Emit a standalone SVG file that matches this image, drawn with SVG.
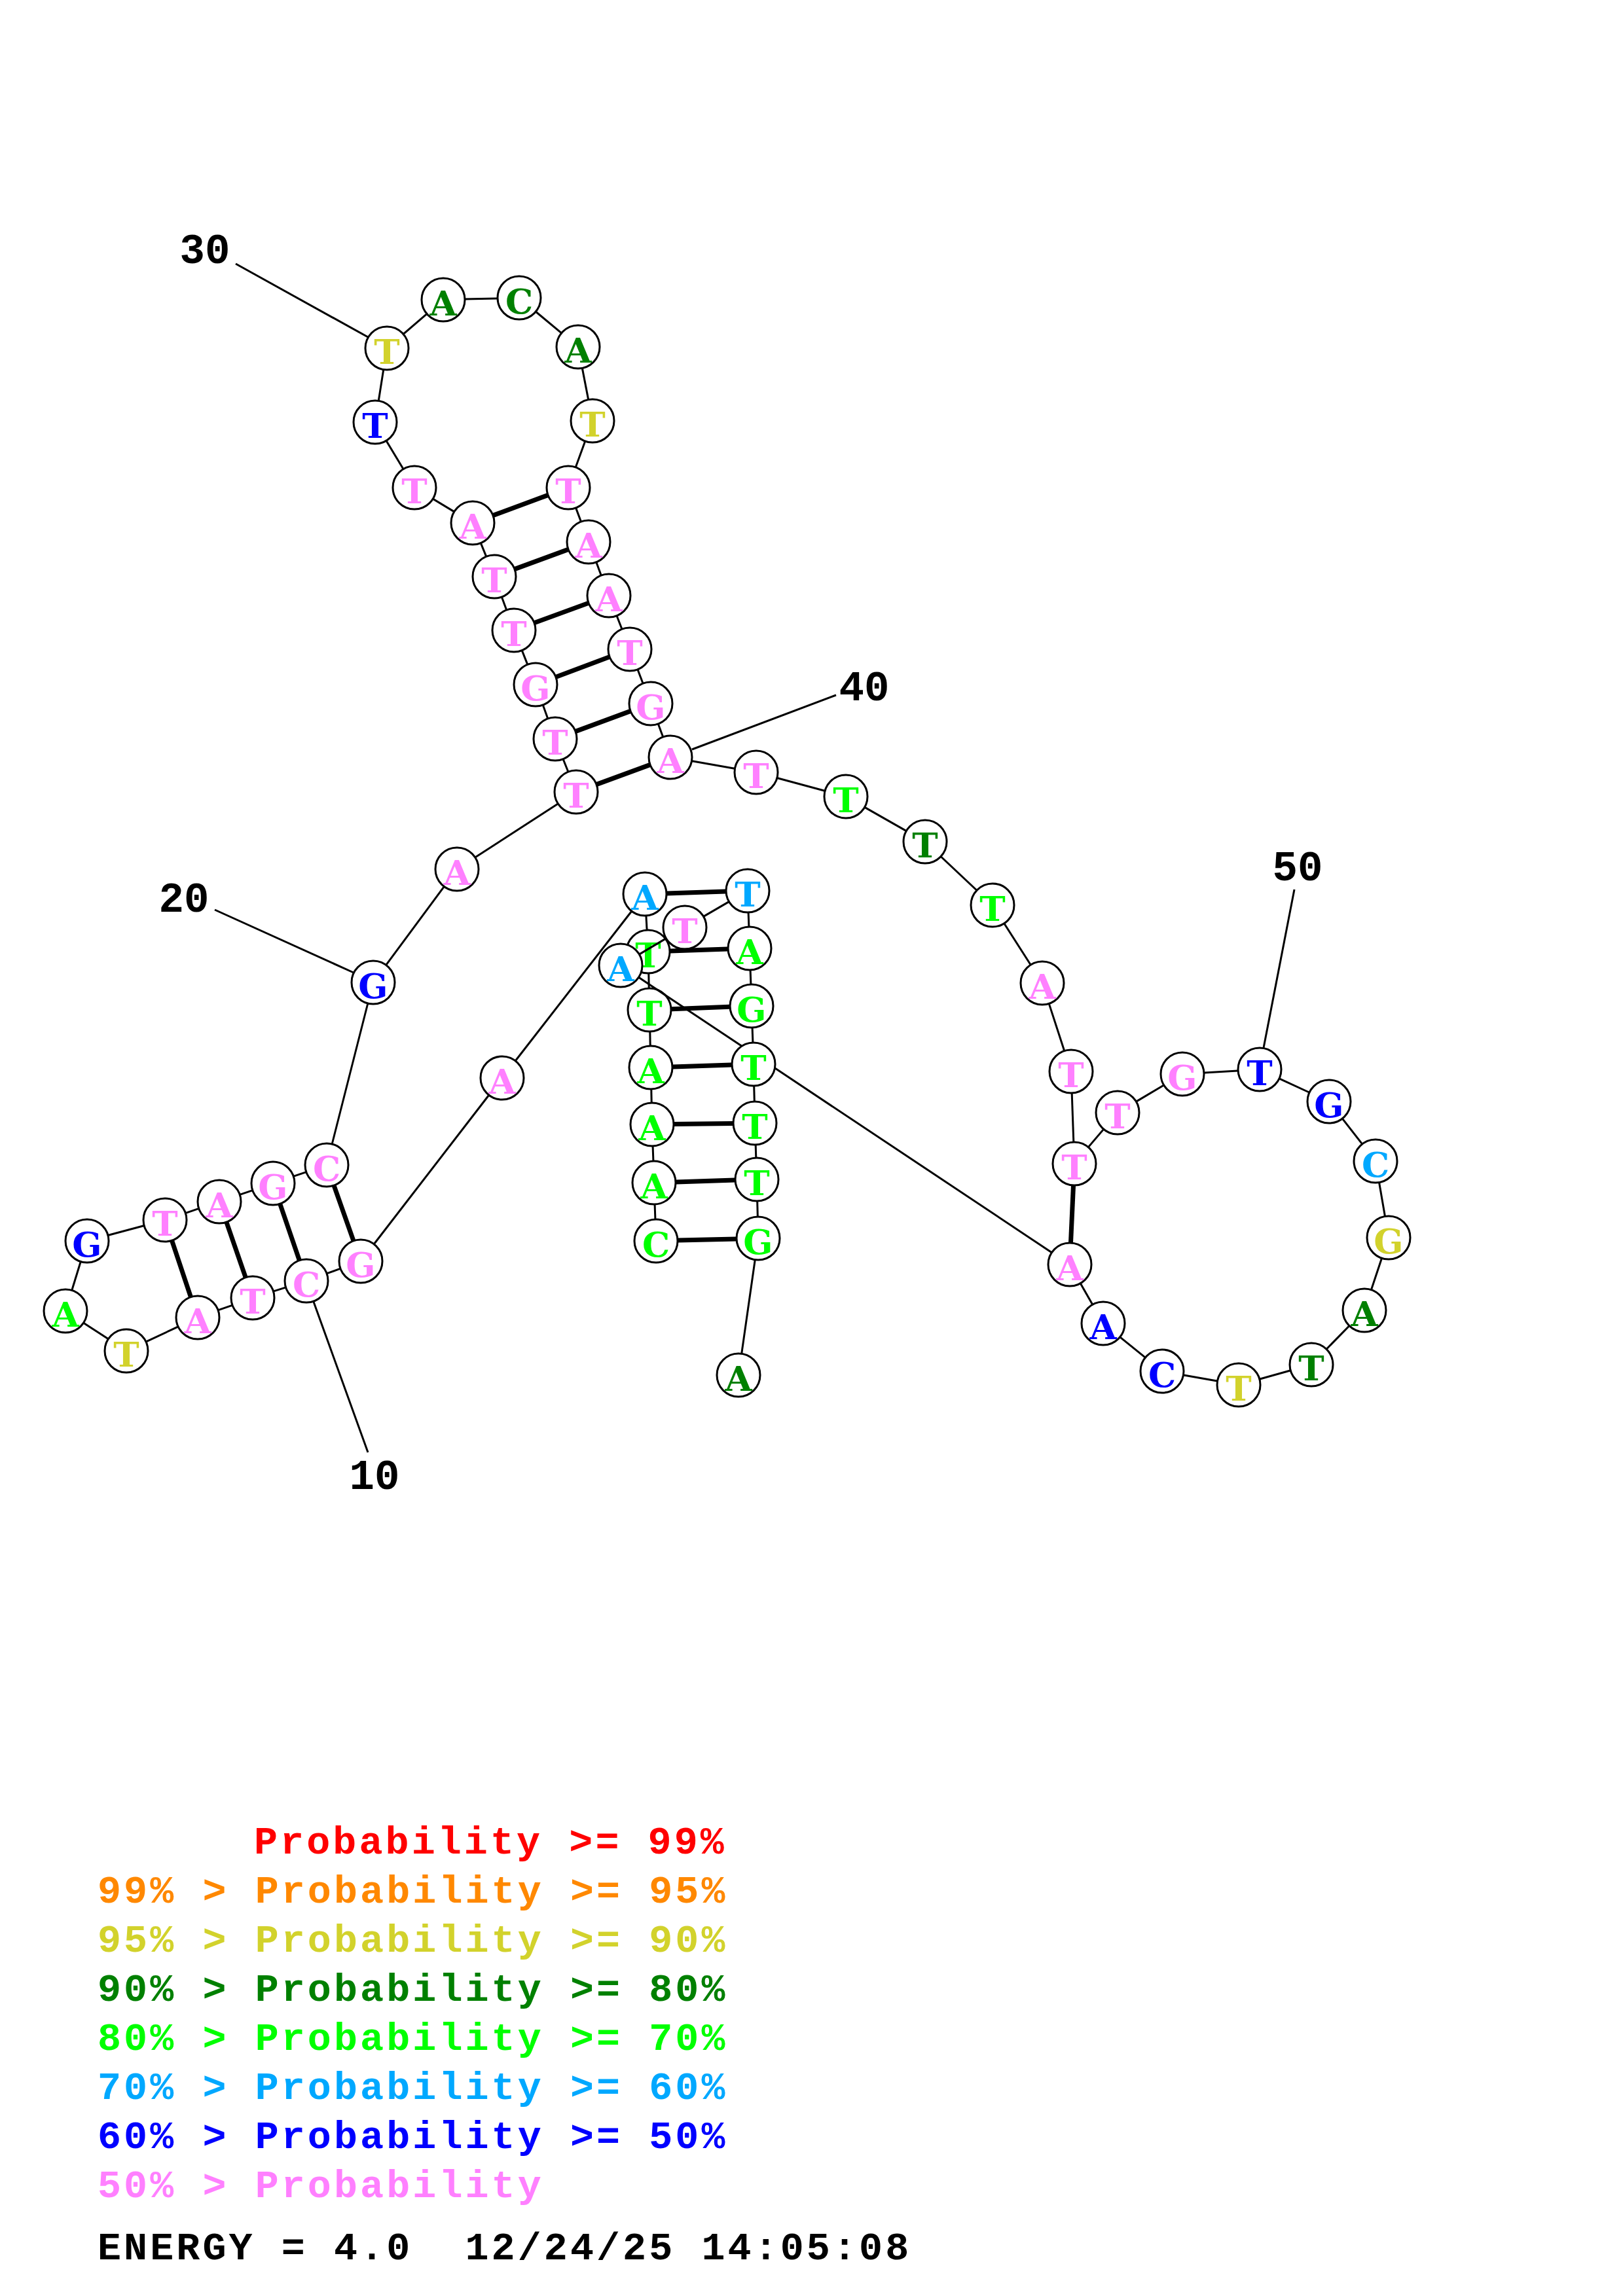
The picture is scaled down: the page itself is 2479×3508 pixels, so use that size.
<svg xmlns="http://www.w3.org/2000/svg" width="2479" height="3508" viewBox="0 0 2479 3508">
<style>
.bg{fill:#ffffff}
.nd circle{fill:#ffffff;stroke:#000000;stroke-width:3}
.nd text{font-family:"DejaVu Serif","Liberation Serif",serif;font-weight:bold;font-size:53px;text-anchor:middle}
.p{fill:#ff80ff}.g{fill:#00ff00}.dg{fill:#008000}.b{fill:#0000ff}.c{fill:#00a8ff}.y{fill:#d2d22c}
.bb line{stroke:#000000;stroke-width:3;stroke-linecap:butt}
.pr line{stroke:#000000;stroke-width:7;stroke-linecap:butt}
.num{font-family:"Liberation Mono","DejaVu Sans Mono",monospace;font-weight:bold;font-size:64px;text-anchor:middle;fill:#000000}
.leg{font-family:"Liberation Mono","DejaVu Sans Mono",monospace;font-weight:bold;font-size:60px;letter-spacing:4.1px;white-space:pre}
</style>
<rect class="bg" x="0" y="0" width="2479" height="3508"/>
<g id="nodes" class="nd">
<g id="n1"><circle cx="1002" cy="1896" r="33"/><text class="g" x="1002" y="1920">C</text></g>
<g id="n2"><circle cx="999" cy="1807" r="33"/><text class="g" x="999" y="1831">A</text></g>
<g id="n3"><circle cx="996" cy="1718" r="33"/><text class="g" x="996" y="1742">A</text></g>
<g id="n4"><circle cx="994" cy="1631" r="33"/><text class="g" x="994" y="1655">A</text></g>
<g id="n5"><circle cx="992" cy="1543" r="33"/><text class="g" x="992" y="1567">T</text></g>
<g id="n6"><circle cx="990" cy="1454" r="33"/><text class="g" x="990" y="1478">T</text></g>
<g id="n7"><circle cx="985" cy="1366" r="33"/><text class="c" x="985" y="1390">A</text></g>
<g id="n8"><circle cx="767" cy="1647" r="33"/><text class="p" x="767" y="1671">A</text></g>
<g id="n9"><circle cx="551" cy="1927" r="33"/><text class="p" x="551" y="1951">G</text></g>
<g id="n10"><circle cx="468" cy="1957" r="33"/><text class="p" x="468" y="1981">C</text></g>
<g id="n11"><circle cx="386" cy="1983" r="33"/><text class="p" x="386" y="2007">T</text></g>
<g id="n12"><circle cx="302" cy="2013" r="33"/><text class="p" x="302" y="2037">A</text></g>
<g id="n13"><circle cx="193" cy="2064" r="33"/><text class="y" x="193" y="2088">T</text></g>
<g id="n14"><circle cx="100" cy="2003" r="33"/><text class="g" x="100" y="2027">A</text></g>
<g id="n15"><circle cx="133" cy="1896" r="33"/><text class="b" x="133" y="1920">G</text></g>
<g id="n16"><circle cx="252" cy="1864" r="33"/><text class="p" x="252" y="1888">T</text></g>
<g id="n17"><circle cx="335" cy="1836" r="33"/><text class="p" x="335" y="1860">A</text></g>
<g id="n18"><circle cx="417" cy="1808" r="33"/><text class="p" x="417" y="1832">G</text></g>
<g id="n19"><circle cx="499" cy="1780" r="33"/><text class="p" x="499" y="1804">C</text></g>
<g id="n20"><circle cx="570" cy="1501" r="33"/><text class="b" x="570" y="1525">G</text></g>
<g id="n21"><circle cx="698" cy="1328" r="33"/><text class="p" x="698" y="1352">A</text></g>
<g id="n22"><circle cx="880" cy="1210" r="33"/><text class="p" x="880" y="1234">T</text></g>
<g id="n23"><circle cx="848" cy="1129" r="33"/><text class="p" x="848" y="1153">T</text></g>
<g id="n24"><circle cx="818" cy="1046" r="33"/><text class="p" x="818" y="1070">G</text></g>
<g id="n25"><circle cx="785" cy="963" r="33"/><text class="p" x="785" y="987">T</text></g>
<g id="n26"><circle cx="755" cy="881" r="33"/><text class="p" x="755" y="905">T</text></g>
<g id="n27"><circle cx="722" cy="799" r="33"/><text class="p" x="722" y="823">A</text></g>
<g id="n28"><circle cx="633" cy="745" r="33"/><text class="p" x="633" y="769">T</text></g>
<g id="n29"><circle cx="573" cy="645" r="33"/><text class="b" x="573" y="669">T</text></g>
<g id="n30"><circle cx="591" cy="532" r="33"/><text class="y" x="591" y="556">T</text></g>
<g id="n31"><circle cx="677" cy="458" r="33"/><text class="dg" x="677" y="482">A</text></g>
<g id="n32"><circle cx="793" cy="455" r="33"/><text class="dg" x="793" y="479">C</text></g>
<g id="n33"><circle cx="883" cy="530" r="33"/><text class="dg" x="883" y="554">A</text></g>
<g id="n34"><circle cx="905" cy="643" r="33"/><text class="y" x="905" y="667">T</text></g>
<g id="n35"><circle cx="868" cy="745" r="33"/><text class="p" x="868" y="769">T</text></g>
<g id="n36"><circle cx="899" cy="828" r="33"/><text class="p" x="899" y="852">A</text></g>
<g id="n37"><circle cx="930" cy="910" r="33"/><text class="p" x="930" y="934">A</text></g>
<g id="n38"><circle cx="962" cy="992" r="33"/><text class="p" x="962" y="1016">T</text></g>
<g id="n39"><circle cx="994" cy="1075" r="33"/><text class="p" x="994" y="1099">G</text></g>
<g id="n40"><circle cx="1024" cy="1157" r="33"/><text class="p" x="1024" y="1181">A</text></g>
<g id="n41"><circle cx="1155" cy="1180" r="33"/><text class="p" x="1155" y="1204">T</text></g>
<g id="n42"><circle cx="1292" cy="1217" r="33"/><text class="g" x="1292" y="1241">T</text></g>
<g id="n43"><circle cx="1413" cy="1286" r="33"/><text class="dg" x="1413" y="1310">T</text></g>
<g id="n44"><circle cx="1516" cy="1383" r="33"/><text class="g" x="1516" y="1407">T</text></g>
<g id="n45"><circle cx="1592" cy="1502" r="33"/><text class="p" x="1592" y="1526">A</text></g>
<g id="n46"><circle cx="1636" cy="1637" r="33"/><text class="p" x="1636" y="1661">T</text></g>
<g id="n47"><circle cx="1641" cy="1778" r="33"/><text class="p" x="1641" y="1802">T</text></g>
<g id="n48"><circle cx="1707" cy="1700" r="33"/><text class="p" x="1707" y="1724">T</text></g>
<g id="n49"><circle cx="1806" cy="1641" r="33"/><text class="p" x="1806" y="1665">G</text></g>
<g id="n50"><circle cx="1924" cy="1634" r="33"/><text class="b" x="1924" y="1658">T</text></g>
<g id="n51"><circle cx="2030" cy="1683" r="33"/><text class="b" x="2030" y="1707">G</text></g>
<g id="n52"><circle cx="2101" cy="1774" r="33"/><text class="c" x="2101" y="1798">C</text></g>
<g id="n53"><circle cx="2121" cy="1891" r="33"/><text class="y" x="2121" y="1915">G</text></g>
<g id="n54"><circle cx="2084" cy="2002" r="33"/><text class="dg" x="2084" y="2026">A</text></g>
<g id="n55"><circle cx="2003" cy="2085" r="33"/><text class="dg" x="2003" y="2109">T</text></g>
<g id="n56"><circle cx="1892" cy="2116" r="33"/><text class="y" x="1892" y="2140">T</text></g>
<g id="n57"><circle cx="1775" cy="2095" r="33"/><text class="b" x="1775" y="2119">C</text></g>
<g id="n58"><circle cx="1685" cy="2022" r="33"/><text class="b" x="1685" y="2046">A</text></g>
<g id="n59"><circle cx="1634" cy="1932" r="33"/><text class="p" x="1634" y="1956">A</text></g>
<g id="n60"><circle cx="948" cy="1475" r="33"/><text class="c" x="948" y="1499">A</text></g>
<g id="n61"><circle cx="1046" cy="1417" r="33"/><text class="p" x="1046" y="1441">T</text></g>
<g id="n62"><circle cx="1142" cy="1361" r="33"/><text class="c" x="1142" y="1385">T</text></g>
<g id="n63"><circle cx="1145" cy="1449" r="33"/><text class="g" x="1145" y="1473">A</text></g>
<g id="n64"><circle cx="1148" cy="1537" r="33"/><text class="g" x="1148" y="1561">G</text></g>
<g id="n65"><circle cx="1151" cy="1626" r="33"/><text class="g" x="1151" y="1650">T</text></g>
<g id="n66"><circle cx="1153" cy="1716" r="33"/><text class="g" x="1153" y="1740">T</text></g>
<g id="n67"><circle cx="1156" cy="1802" r="33"/><text class="g" x="1156" y="1826">T</text></g>
<g id="n68"><circle cx="1158" cy="1892" r="33"/><text class="g" x="1158" y="1916">G</text></g>
<g id="n69"><circle cx="1128" cy="2101" r="33"/><text class="dg" x="1128" y="2125">A</text></g>
</g>
<g id="connectors">
<g id="backbone" class="bb">
<line x1="1000.9" y1="1862.5" x2="1000.1" y2="1840.5"/>
<line x1="997.9" y1="1773.5" x2="997.1" y2="1751.5"/>
<line x1="995.2" y1="1684.5" x2="994.8" y2="1664.5"/>
<line x1="993.2" y1="1597.5" x2="992.8" y2="1576.5"/>
<line x1="991.2" y1="1509.5" x2="990.8" y2="1487.5"/>
<line x1="988.1" y1="1420.6" x2="986.9" y2="1399.5"/>
<line x1="964.5" y1="1392.5" x2="787.5" y2="1620.5"/>
<line x1="746.5" y1="1673.5" x2="571.5" y2="1900.5"/>
<line x1="519.5" y1="1938.4" x2="499.5" y2="1945.6"/>
<line x1="436.1" y1="1967.1" x2="417.9" y2="1972.9"/>
<line x1="354.5" y1="1994.3" x2="333.5" y2="2001.7"/>
<line x1="271.7" y1="2027.2" x2="223.3" y2="2049.8"/>
<line x1="165" y1="2045.6" x2="128" y2="2021.4"/>
<line x1="109.9" y1="1971" x2="123.1" y2="1928"/>
<line x1="165.4" y1="1887.3" x2="219.6" y2="1872.7"/>
<line x1="283.7" y1="1853.3" x2="303.3" y2="1846.7"/>
<line x1="366.7" y1="1825.2" x2="385.3" y2="1818.8"/>
<line x1="448.7" y1="1797.2" x2="467.3" y2="1790.8"/>
<line x1="507.3" y1="1747.5" x2="561.7" y2="1533.5"/>
<line x1="589.9" y1="1474.1" x2="678.1" y2="1354.9"/>
<line x1="726.1" y1="1309.8" x2="851.9" y2="1228.2"/>
<line x1="867.7" y1="1178.8" x2="860.3" y2="1160.2"/>
<line x1="836.6" y1="1097.5" x2="829.4" y2="1077.5"/>
<line x1="805.6" y1="1014.9" x2="797.4" y2="994.1"/>
<line x1="773.5" y1="931.5" x2="766.5" y2="912.5"/>
<line x1="742.5" y1="849.9" x2="734.5" y2="830.1"/>
<line x1="693.4" y1="781.6" x2="661.6" y2="762.4"/>
<line x1="615.8" y1="716.3" x2="590.2" y2="673.7"/>
<line x1="578.3" y1="611.9" x2="585.7" y2="565.1"/>
<line x1="616.4" y1="510.2" x2="651.6" y2="479.8"/>
<line x1="710.5" y1="457.1" x2="759.5" y2="455.9"/>
<line x1="818.7" y1="476.5" x2="857.3" y2="508.6"/>
<line x1="889.4" y1="562.9" x2="898.6" y2="610.1"/>
<line x1="893.6" y1="674.5" x2="879.4" y2="713.5"/>
<line x1="879.7" y1="776.4" x2="887.3" y2="796.6"/>
<line x1="910.9" y1="859.3" x2="918.1" y2="878.7"/>
<line x1="942.2" y1="941.2" x2="949.8" y2="960.8"/>
<line x1="974.1" y1="1023.3" x2="981.9" y2="1043.7"/>
<line x1="1005.5" y1="1106.5" x2="1012.5" y2="1125.5"/>
<line x1="1057" y1="1162.8" x2="1122" y2="1174.2"/>
<line x1="1187.4" y1="1188.7" x2="1259.6" y2="1208.3"/>
<line x1="1321.1" y1="1233.6" x2="1383.9" y2="1269.4"/>
<line x1="1437.4" y1="1309" x2="1491.6" y2="1360"/>
<line x1="1534" y1="1411.2" x2="1574" y2="1473.8"/>
<line x1="1602.4" y1="1533.9" x2="1625.6" y2="1605.2"/>
<line x1="1637.2" y1="1670.5" x2="1639.8" y2="1744.5"/>
<line x1="1662.6" y1="1752.4" x2="1685.4" y2="1725.6"/>
<line x1="1735.8" y1="1682.9" x2="1777.2" y2="1658.2"/>
<line x1="1839.4" y1="1639" x2="1890.6" y2="1636"/>
<line x1="1954.4" y1="1648.1" x2="1999.6" y2="1669"/>
<line x1="2050.6" y1="1709.4" x2="2080.4" y2="1747.6"/>
<line x1="2106.6" y1="1807" x2="2115.4" y2="1858"/>
<line x1="2110.4" y1="1922.8" x2="2094.6" y2="1970.2"/>
<line x1="2060.6" y1="2026" x2="2026.4" y2="2061"/>
<line x1="1970.7" y1="2094" x2="1924.3" y2="2107"/>
<line x1="1859" y1="2110.1" x2="1808" y2="2100.9"/>
<line x1="1749" y1="2073.9" x2="1711" y2="2043.1"/>
<line x1="1668.5" y1="1992.8" x2="1650.5" y2="1961.2"/>
<line x1="1606.1" y1="1913.4" x2="1183.8" y2="1632.1"/>
<line x1="1132.6" y1="1598" x2="975.9" y2="1493.6"/>
<line x1="976.8" y1="1457.9" x2="1017.2" y2="1433.9"/>
<line x1="1074.9" y1="1400.1" x2="1113.1" y2="1377.9"/>
<line x1="1143.1" y1="1394.5" x2="1143.9" y2="1415.5"/>
<line x1="1146.1" y1="1482.5" x2="1146.9" y2="1503.5"/>
<line x1="1149.1" y1="1570.5" x2="1149.9" y2="1592.5"/>
<line x1="1151.7" y1="1659.5" x2="1152.3" y2="1682.5"/>
<line x1="1154.2" y1="1749.5" x2="1154.8" y2="1768.5"/>
<line x1="1156.7" y1="1835.5" x2="1157.3" y2="1858.5"/>
<line x1="1153.2" y1="1925.2" x2="1132.8" y2="2067.8"/>
</g>
<g id="pairs" class="pr">
<line x1="1035.5" y1="1895.1" x2="1124.5" y2="1892.9"/>
<line x1="1032.5" y1="1805.9" x2="1122.5" y2="1803.1"/>
<line x1="1029.5" y1="1717.6" x2="1119.5" y2="1716.4"/>
<line x1="1027.5" y1="1629.9" x2="1117.5" y2="1627.1"/>
<line x1="1025.5" y1="1541.7" x2="1114.5" y2="1538.3"/>
<line x1="1023.5" y1="1452.9" x2="1111.5" y2="1450.1"/>
<line x1="1018.5" y1="1364.9" x2="1108.5" y2="1362.1"/>
<line x1="539.8" y1="1895.4" x2="510.2" y2="1811.6"/>
<line x1="457.2" y1="1925.3" x2="427.8" y2="1839.7"/>
<line x1="375" y1="1951.4" x2="346" y2="1867.7"/>
<line x1="291.3" y1="1981.3" x2="262.7" y2="1895.8"/>
<line x1="911.5" y1="1198.4" x2="992.5" y2="1168.6"/>
<line x1="879.4" y1="1117.4" x2="962.6" y2="1086.6"/>
<line x1="849.4" y1="1034.2" x2="930.6" y2="1003.8"/>
<line x1="816.5" y1="951.5" x2="898.5" y2="921.5"/>
<line x1="786.5" y1="869.4" x2="867.5" y2="839.6"/>
<line x1="753.4" y1="787.4" x2="836.6" y2="756.6"/>
<line x1="1639.5" y1="1811.5" x2="1635.5" y2="1898.5"/>
</g>
<g id="ticks" class="bb">
<line x1="360" y1="403" x2="562" y2="515"/>
<line x1="1277" y1="1062" x2="1057" y2="1145"/>
<line x1="328" y1="1390" x2="540" y2="1486"/>
<line x1="562" y1="2219" x2="479" y2="1989"/>
<line x1="1977" y1="1359" x2="1930" y2="1601"/>
</g>
</g>
<g id="numbers">
<text class="num" x="313" y="402">30</text>
<text class="num" x="1320" y="1070">40</text>
<text class="num" x="281" y="1393">20</text>
<text class="num" x="572" y="2275">10</text>
<text class="num" x="1982" y="1345">50</text>
</g>
<g id="legend" class="leg">
<text x="388" y="2832" fill="#ff0000">Probability &gt;= 99%</text>
<text x="149" y="2907" fill="#ff8800">99% &gt; Probability &gt;= 95%</text>
<text x="149" y="2982" fill="#d2d22c">95% &gt; Probability &gt;= 90%</text>
<text x="149" y="3057" fill="#008000">90% &gt; Probability &gt;= 80%</text>
<text x="149" y="3132" fill="#00ff00">80% &gt; Probability &gt;= 70%</text>
<text x="149" y="3207" fill="#00a8ff">70% &gt; Probability &gt;= 60%</text>
<text x="149" y="3282" fill="#0000ff">60% &gt; Probability &gt;= 50%</text>
<text x="149" y="3357" fill="#ff80ff">50% &gt; Probability</text>
<text x="149" y="3452" fill="#000000" xml:space="preserve">ENERGY = 4.0  12/24/25 14:05:08</text>
</g>
</svg>
